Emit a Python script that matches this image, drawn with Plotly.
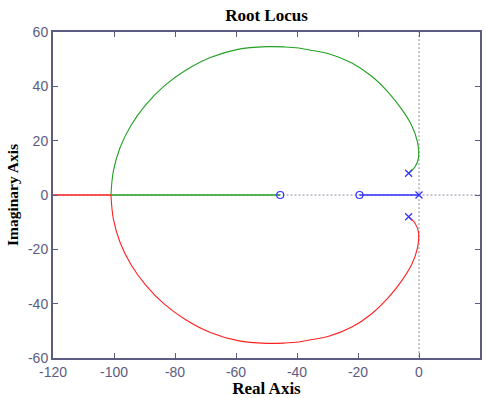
import plotly.graph_objects as go

# Open-loop poles and zeros
pole_re = [0.0, -3.4, -3.4]
pole_im = [0.0, 8.0, -8.0]
zero_re = [-45.5, -19.5]
zero_im = [0.0, 0.0]

# Complex branch leaving the upper pole
upper_re = [-3.4, -1.3, -0.2, -0.5, -2.4, -5.7, -10.0, -15.5, -22.0, -29.6, -35.0, -39.4,
            -44.0, -50.0, -59.4, -68.4, -76.5, -83.6, -89.6, -94.4, -98.0, -100.2, -101.0]
upper_im = [8.0, 10.4, 13.5, 19.5, 25.6, 31.6, 37.7, 43.7, 48.6, 52.0, 53.2, 54.1,
            54.5, 54.6, 53.6, 50.6, 45.9, 40.1, 33.2, 25.7, 17.5, 8.9, 0.0]

# Complex branch leaving the lower pole
lower_re = [-3.4, -1.3, -0.2, -0.5, -2.4, -5.7, -10.0, -15.5, -22.0, -29.6, -35.0, -39.4,
            -44.0, -50.0, -59.4, -68.4, -76.5, -83.6, -89.6, -94.4, -98.0, -100.2, -101.0]
lower_im = [-8.0, -10.4, -13.5, -19.5, -25.6, -31.6, -37.7, -43.7, -48.6, -52.0, -53.2, -54.1,
            -54.5, -54.6, -53.6, -50.6, -45.9, -40.1, -33.2, -25.7, -17.5, -8.9, 0.0]

# Real-axis segments after the break-in point
green_axis_re = [-101.0, -45.5]
red_axis_re = [-101.0, -130.0]
blue_axis_re = [0.0, -19.5]

x_ticks = [-120, -100, -80, -60, -40, -20, 0, 20]
y_ticks = [-60, -40, -20, 0, 20, 40, 60]

GREEN = "#22a022"
RED = "#ff2020"
BLUE = "#3030ff"
AXIS = "#5c5c80"
GRID = "#8a8aa0"
SERIF = "Liberation Serif, serif"

fig = go.Figure()

# dotted reference axes through the origin
fig.add_trace(go.Scatter(x=[-130, 30], y=[0, 0], mode="lines",
                         line=dict(color=GRID, width=1, dash="2px,2px"), hoverinfo="skip"))
fig.add_trace(go.Scatter(x=[0, 0], y=[-70, 70], mode="lines",
                         line=dict(color=GRID, width=1, dash="2px,2px"), hoverinfo="skip"))

fig.add_trace(go.Scatter(x=upper_re, y=upper_im, mode="lines", line_shape="spline",
                         line=dict(color=GREEN, width=1.1, smoothing=1.0)))
fig.add_trace(go.Scatter(x=lower_re, y=lower_im, mode="lines", line_shape="spline",
                         line=dict(color=RED, width=1.1, smoothing=1.0)))

# straight real-axis pieces
fig.add_trace(go.Scatter(x=green_axis_re, y=[0, 0], mode="lines",
                         line=dict(color=GREEN, width=1.4)))
fig.add_trace(go.Scatter(x=red_axis_re, y=[0, 0], mode="lines",
                         line=dict(color=RED, width=1.4)))
fig.add_trace(go.Scatter(x=blue_axis_re, y=[0, 0], mode="lines",
                         line=dict(color=BLUE, width=1.4)))

fig.add_trace(go.Scatter(x=pole_re, y=pole_im, mode="markers",
                         marker=dict(symbol="x-thin", size=7, line=dict(color=BLUE, width=1.2))))
fig.add_trace(go.Scatter(x=zero_re, y=zero_im, mode="markers",
                         marker=dict(symbol="circle-open", size=7, color=BLUE,
                                     line=dict(color=BLUE, width=1.2))))

axis_common = dict(showgrid=False, zeroline=False, showline=True, linecolor=AXIS, linewidth=2,
                   mirror="ticks", ticks="inside", ticklen=5, tickwidth=1.2, tickcolor=AXIS,
                   tickfont=dict(family="Liberation Sans, Arial, sans-serif", size=14, color=AXIS))

fig.update_layout(
    width=487, height=398,
    margin=dict(l=53, r=5, t=32, b=35),
    paper_bgcolor="white", plot_bgcolor="white",
    showlegend=False,
    title=dict(text="<b>Root Locus</b>", xref="paper", x=0.5, xanchor="center",
               y=0.962, yanchor="middle",
               font=dict(family=SERIF, size=17, color="black")),
    xaxis=dict(range=[-120, 20], tickvals=x_ticks, ticktext=[str(v) for v in x_ticks],
               title=dict(text="<b>Real Axis</b>", standoff=1,
                          font=dict(family=SERIF, size=17, color="black")),
               **axis_common),
    yaxis=dict(range=[-60, 60], tickvals=y_ticks, ticktext=[str(v) for v in y_ticks],
               title=dict(text="<b>Imaginary Axis</b>", standoff=6,
                          font=dict(family=SERIF, size=15.5, color="black")),
               **axis_common),
)

fig.write_html("out.html")
